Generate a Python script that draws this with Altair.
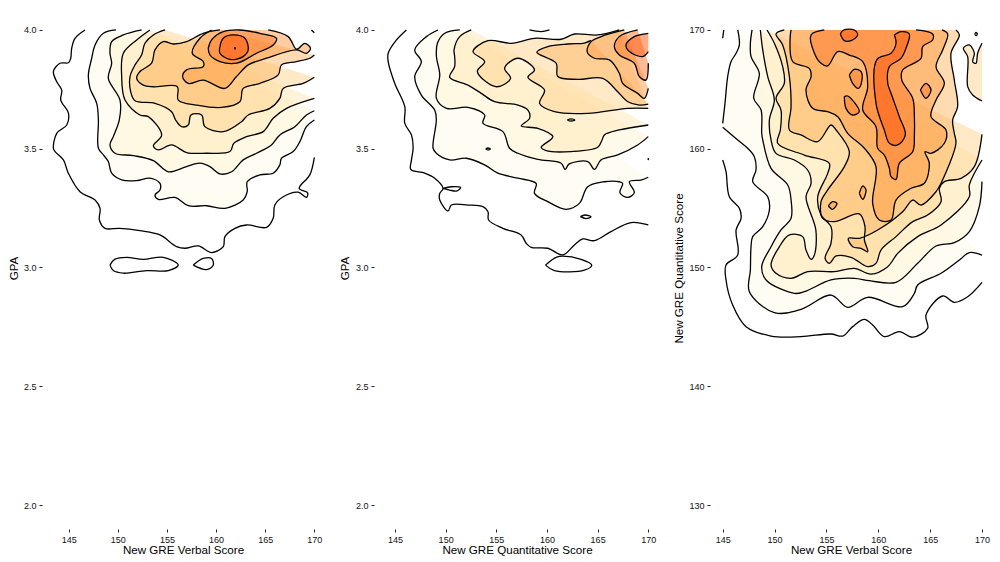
import altair as alt
import pandas as pd

# ---------- Panel 1: GPA vs verbal ----------
p1_c1a = [(146.66,4.0),(145.64,3.965),(145.3,3.923),(145.2,3.88),(144.97,3.862),(144.12,3.86),(143.44,3.825),(143.78,3.782),(144.29,3.747),(144.19,3.705),(144.97,3.65),(144.8,3.6),(143.78,3.565),(143.44,3.502),(143.61,3.488),(144.46,3.453),(144.97,3.396),(146.15,3.319),(147.68,3.284),(148.19,3.249),(148.12,3.2),(148.69,3.165),(150.2,3.165),(152.25,3.155),(154.29,3.137),(155.98,3.088),(156.83,3.081),(158.19,3.091),(159.54,3.063),(160.73,3.088),(160.9,3.13),(161.92,3.165),(163.1,3.179),(165.14,3.169),(165.81,3.207),(165.98,3.263),(166.83,3.298),(168.36,3.317),(169.2,3.295),(169.31,3.315),(168.46,3.333),(169.54,3.39),(170,3.464)]
p1_i1 = [(149.2,3.01),(149.71,3.035),(150.9,3.043),(152.59,3.034),(154.63,3.043),(156.15,3.01),(155.14,2.987),(152.93,2.987),(150.56,2.976),(149.54,2.987),(149.2,3.01)]
p1_i2 = [(157.68,3.01),(158.69,3.038),(159.54,3.038),(159.71,3.01),(159.03,2.991),(157.68,3.01)]
p1_t1 = [(169.7,4.0),(170,3.988)]
p1_c2 = [(149.81,4.0),(148.53,3.986),(147.68,3.937),(147.34,3.881),(147.0,3.811),(147.17,3.754),(147.85,3.691),(148.02,3.621),(148.02,3.502),(148.53,3.474),(149.03,3.446),(149.37,3.397),(150.39,3.369),(151.92,3.366),(153.27,3.376),(154.29,3.354),(154.29,3.326),(153.78,3.305),(154.12,3.287),(155.81,3.295),(157.17,3.26),(159.03,3.26),(160.9,3.249),(162.76,3.284),(163.17,3.319),(163.17,3.361),(164.46,3.39),(165.81,3.397),(166.49,3.432),(166.66,3.46),(167.85,3.488),(168.53,3.53),(169.2,3.593),(170,3.621)]
p1_c3 = [(152.42,4.0),(150.56,3.979),(149.37,3.951),(149.2,3.902),(149.37,3.86),(149.03,3.796),(150.22,3.705),(150.15,3.621),(149.54,3.551),(149.2,3.516),(149.71,3.481),(151.58,3.471),(153.61,3.45),(155.14,3.403),(157.0,3.425),(158.36,3.439),(159.37,3.425),(160.39,3.394),(161.58,3.403),(162.76,3.453),(164.12,3.481),(165.64,3.516),(166.49,3.558),(168.02,3.593),(169.2,3.642),(170,3.66)]
p1_c4 = [(153.27,4.0),(151.92,3.958),(150.56,3.902),(150.39,3.804),(150.73,3.705),(152.25,3.642),(153.1,3.635),(154.46,3.558),(153.61,3.512),(154.12,3.495),(155.47,3.516),(157.0,3.484),(159.03,3.481),(161.41,3.488),(161.81,3.523),(163.1,3.551),(164.8,3.572),(165.81,3.628),(167.17,3.67),(170,3.712)]
p1_c5 = [(154.8,4.0),(153.61,3.979),(152.76,3.944),(152.42,3.895),(151.75,3.853),(151.24,3.804),(151.31,3.74),(151.75,3.702),(153.78,3.691),(155.47,3.656),(155.88,3.621),(156.49,3.593),(157.17,3.6),(157.44,3.642),(158.53,3.642),(158.86,3.593),(160.73,3.572),(162.59,3.614),(163.27,3.642),(165.47,3.67),(166.49,3.712),(166.83,3.754),(168.86,3.775),(170,3.801)]
p1_c6 = [(160.39,4.0),(158.69,3.986),(157.0,3.951),(155.64,3.941),(154.63,3.951),(153.78,3.916),(153.44,3.86),(152.25,3.825),(151.92,3.796),(152.59,3.768),(153.61,3.761),(156.05,3.761),(156.15,3.705),(158.02,3.684),(160.56,3.674),(162.42,3.698),(162.76,3.754),(164.46,3.775),(166.32,3.811),(166.66,3.853),(168.19,3.867),(169.54,3.881),(170,3.895)]
p1_c7 = [(159.54,4.0),(158.36,3.965),(157.58,3.902),(158.69,3.867),(158.69,3.846),(157.0,3.832),(156.59,3.804),(157.17,3.775),(158.69,3.789),(160.9,3.754),(162.08,3.804),(163.27,3.853),(165.14,3.881),(168.19,3.916),(169.2,3.902),(169.61,3.923),(169.03,3.944),(168.19,3.919),(167.34,3.972),(165.31,4.0)]
p1_c8 = [(159.2,3.923),(159.54,3.958),(160.73,3.993),(162.42,4.0),(164.46,3.986),(166.15,3.965),(165.81,3.937),(164.12,3.902),(162.08,3.86),(160.39,3.867),(159.37,3.895),(159.2,3.923)]
p1_c9 = [(160.39,3.93),(160.73,3.965),(161.75,3.979),(162.93,3.965),(163.27,3.916),(162.76,3.888),(161.41,3.876),(160.39,3.902),(160.39,3.93)]
p1_c10 = [(161.87,3.923),(161.92,3.926),(161.97,3.923),(161.92,3.92),(161.87,3.923)]

# ---------- Panel 2: GPA vs quantitative ----------
p2_c1 = [(146.13,4.0),(145.15,3.958),(144.33,3.902),(144.33,3.867),(144.98,3.775),(145.97,3.677),(145.97,3.607),(146.63,3.558),(146.79,3.502),(146.63,3.453),(146.56,3.413),(147.94,3.397),(148.92,3.376),(149.74,3.333),(149.42,3.312),(149.42,3.284),(150.24,3.238),(150.57,3.263),(152.21,3.263),(153.68,3.256),(154.18,3.235),(154.24,3.2),(155.65,3.165),(157.45,3.137),(157.95,3.102),(158.44,3.085),(160.08,3.081),(161.56,3.053),(162.71,3.095),(163.53,3.12),(164.68,3.113),(166.32,3.151),(168.29,3.189),(170,3.179)]
p2_i1 = [(149.74,3.333),(150.57,3.34),(151.48,3.336),(151.07,3.322),(150.4,3.326),(149.74,3.333)]
p2_i2 = [(163.3,3.214),(163.76,3.221),(164.35,3.214),(163.86,3.206),(163.3,3.214)]
p2_i3 = [(159.85,3.01),(160.9,3.043),(161.56,3.048),(163.37,3.034),(164.42,3.01),(163.7,2.989),(160.74,2.987),(159.85,3.01)]
p2_i4 = [(153.95,3.499),(154.18,3.503),(154.41,3.499),(154.18,3.495),(153.95,3.499)]
p2_i5 = [(162.0,3.621),(162.38,3.626),(162.76,3.621),(162.38,3.616),(162.0,3.621)]
p2_i6 = [(169.95,3.456),(170,3.458),(170,3.454),(169.95,3.456)]
p2_c2 = [(149.25,4.0),(148.1,3.972),(146.95,3.916),(147.6,3.867),(146.95,3.804),(147.6,3.726),(148.92,3.663),(149.08,3.621),(148.76,3.502),(149.08,3.481),(150.4,3.453),(152.04,3.46),(153.84,3.432),(155.15,3.397),(157.12,3.376),(158.93,3.354),(158.77,3.312),(160.08,3.277),(161.88,3.245),(163.2,3.27),(164.02,3.34),(165.66,3.361),(167.14,3.361),(167.47,3.354),(167.2,3.315),(167.96,3.295),(168.62,3.315),(168.13,3.361),(169.28,3.368),(170,3.38)]
p2_c3 = [(151.39,4.0),(149.91,3.986),(149.19,3.944),(149.09,3.888),(149.42,3.811),(149.09,3.712),(150.08,3.67),(152.2,3.674),(153.85,3.642),(153.68,3.607),(155.65,3.572),(156.31,3.502),(157.13,3.481),(159.1,3.455),(161.4,3.439),(161.79,3.413),(162.2,3.436),(164.03,3.446),(164.68,3.413),(165.34,3.453),(166.98,3.474),(168.95,3.516),(170,3.551)]
p2_c4 = [(152.53,4.0),(151.39,3.972),(150.83,3.916),(150.89,3.888),(150.89,3.846),(150.4,3.801),(152.2,3.768),(153.52,3.733),(154.83,3.698),(157.13,3.684),(158.12,3.663),(158.28,3.628),(157.46,3.596),(159.1,3.586),(160.58,3.551),(159.43,3.506),(159.92,3.492),(162.38,3.488),(165.01,3.506),(165.44,3.537),(165.67,3.558),(167.14,3.579),(170,3.6)]
p2_c5 = [(170,3.67),(167.96,3.67),(164.03,3.649),(160.74,3.656),(159.27,3.691),(159.76,3.747),(158.12,3.801),(158.77,3.832),(157.13,3.881),(155.82,3.839),(156.41,3.796),(155.0,3.761),(153.13,3.825),(153.85,3.867),(152.7,3.909),(154.18,3.955),(156.48,3.944),(158.77,3.965),(161.4,3.961),(162.71,3.983),(165.01,3.979),(167.14,4.0)]
p2_t1 = [(158.28,4.0),(159.43,3.993),(160.25,4.0)]
p2_c6 = [(170,3.688),(169.11,3.684),(167.98,3.698),(166.98,3.74),(165.5,3.796),(163.04,3.792),(161.07,3.804),(160.9,3.86),(159.0,3.906),(160.08,3.93),(162.05,3.941),(163.69,3.945),(164.35,3.956)]
p2_c7 = [(167.63,4.0),(165.34,3.972),(164.35,3.951),(163.96,3.909),(164.68,3.881),(166.16,3.874),(167.14,3.818),(167.47,3.775),(168.95,3.733),(169.61,3.712),(170,3.754)]
p2_c8 = [(168.95,4.0),(167.14,3.972),(166.65,3.93),(167.14,3.895),(168.62,3.86),(169.11,3.804),(169.77,3.789),(170,3.86)]
p2_c9 = [(170,3.986),(168.62,3.972),(167.8,3.937),(168.13,3.909),(169.44,3.888),(170,3.909)]

# ---------- Panel 3: quantitative vs verbal ----------
p3_c1a = [(145.1,170),(145.0,169.3)]
p3_c1b = [(145.0,159.05),(145.32,158.07),(145.64,155.96),(146.61,154.98),(146.77,154.14),(146.29,153.16),(146.45,151.05),(145.32,150.21),(145.32,148.95),(145.96,146.84),(147.25,145.02),(149.66,144.23),(152.55,144.18),(155.44,144.4),(156.57,144.23),(157.53,145.02),(158.66,145.63),(159.46,145.16),(160.58,144.18),(162.03,144.6),(163.32,144.13),(164.76,144.88),(164.6,146.0),(166.21,147.6),(167.33,147.07),(168.62,147.54),(170,148.75)]
p3_c2a = [(146.45,170),(146.61,168.74),(146.29,168.04),(145.8,167.33),(145.48,166.07),(145.22,163.82),(145.0,162.14)]
p3_c2b = [(145.0,161.8),(146.45,160.74),(147.41,160.04),(148.05,159.33),(148.21,158.21),(147.89,157.23),(149.34,155.96),(149.5,154.84),(148.86,153.44),(147.89,152.6),(147.73,151.75),(147.67,149.79),(147.57,147.96),(149.98,146.2),(152.55,146.48),(155.44,147.68),(157.05,146.65),(158.98,147.49),(162.35,146.7),(163.48,147.82),(163.8,148.53),(166.05,149.51),(167.82,150.63),(168.78,151.25),(170,151.05)]
p3_c3 = [(147.83,170),(147.67,168.88),(147.73,167.75),(148.53,166.35),(147.99,164.25),(148.7,163.26),(148.76,161.3),(148.86,160.74),(149.66,158.35),(151.27,156.95),(151.59,155.68),(151.59,154.14),(150.62,153.16),(149.66,151.75),(148.76,150.07),(149.18,148.95),(151.91,147.82),(152.87,147.96),(155.44,148.95),(157.69,149.09),(159.14,148.89),(161.71,148.75),(163.8,150.35),(165.57,151.81),(167.33,152.09),(168.78,153.02),(169.74,155.12),(170,157.23)]
p3_c4 = [(148.63,170),(148.86,168.32),(149.34,166.07),(149.98,164.11),(149.5,162.42),(149.66,160.74),(150.14,159.61),(151.91,159.05),(153.19,158.21),(153.52,157.09),(153.03,155.96),(153.98,153.16),(153.84,151.05),(153.52,150.69),(153.03,151.47),(152.71,152.6),(151.43,152.74),(150.46,151.75),(149.66,150.21),(150.14,149.51),(151.59,149.09),(153.19,149.65),(155.76,149.65),(157.69,149.93),(159.3,149.45),(160.91,150.07),(161.87,151.19),(163.8,152.6),(166.05,153.58),(168.78,155.96),(168.78,156.95),(170,159.05)]
p3_c5 = [(149.27,170),(149.98,168.88),(150.78,166.91),(150.94,165.51),(150.14,164.25),(150.62,163.26),(150.56,161.58),(150.3,160.46),(152.87,159.47),(155.28,158.77),(155.12,157.93),(154.16,155.96),(154.48,154.42),(155.44,153.44),(155.44,152.04),(154.87,150.77),(155.28,150.35),(155.93,150.97),(157.37,150.86),(158.98,150.07),(159.78,150.35),(160.26,151.47),(161.71,152.6),(163.32,153.86),(164.76,154.42),(166.05,155.54),(165.89,156.67),(166.37,157.23),(167.98,157.51),(169.26,158.49),(170,161.21)]
p3_b1 = [(170,168.88),(169.58,168.04),(169.42,167.19),(169.1,167.33),(169.26,168.04),(168.78,168.74),(168.2,168.46),(168.62,167.75),(168.62,165.23),(169.1,164.53),(170,164.02)]
p3_c6 = [(150.94,170),(150.14,169.66),(150.78,168.74),(151.43,166.07),(151.59,163.54),(151.43,161.58),(152.55,161.16),(154.16,160.6),(155.44,162.0),(155.93,161.58),(157.21,159.75),(156.73,158.49),(155.12,156.53),(154.48,155.54),(154.64,154.14),(155.76,153.86),(158.17,154.51),(158.72,153.44),(158.66,152.32),(158.98,151.33),(158.34,151.61),(157.53,151.75),(157.11,152.46),(158.17,152.46),(159.94,153.16),(162.35,154.7),(163.32,155.68),(164.12,155.26),(165.57,156.39),(166.05,157.09),(167.49,160.46),(167.33,161.3),(167.17,162.42),(167.65,163.54),(167.33,165.79),(167.01,168.04),(167.82,169.58),(167.49,170)]
p3_c7 = [(151.59,170),(151.49,169.16),(151.75,167.33),(153.35,166.77),(153.52,166.07),(153.03,164.95),(153.68,163.4),(155.12,163.12),(156.09,162.7),(157.05,161.3),(158.66,160.04),(159.78,158.49),(159.46,155.4),(160.1,154.0),(161.23,154.0),(161.71,155.68),(163.16,156.67),(164.44,157.09),(164.92,158.77),(164.5,159.75),(165.08,159.61),(166.37,160.46),(166.53,161.58),(165.08,162.7),(165.57,164.11),(166.37,165.51),(165.57,166.91),(166.21,168.32),(166.69,169.66),(166.14,170)]
p3_c8 = [(154.8,170),(153.52,169.58),(153.84,168.04),(154.48,167.19),(155.12,166.97),(156.09,168.18),(157.21,167.89),(158.5,167.33),(158.98,165.23),(158.5,163.26),(159.78,161.86),(159.94,160.04),(160.58,159.47),(161.07,158.35),(161.23,157.65),(161.71,157.42),(162.03,158.77),(163.32,159.75),(163.48,161.16),(163.48,162.7),(163.32,164.25),(162.26,165.79),(162.35,166.63),(164.12,167.61),(164.28,168.6),(165.24,169.16),(165.24,169.66),(163.64,170)]
p3_o1 = [(157.21,166.21),(157.69,166.69),(158.34,166.49),(158.4,165.65),(158.08,165.09),(157.53,165.51),(157.21,166.21)]
p3_o2 = [(156.73,164.39),(157.05,164.44),(158.17,163.12),(157.53,162.84),(156.89,163.4),(156.73,164.39)]
p3_o3 = [(155.19,155.18),(155.6,155.54),(156.02,155.4),(155.6,154.9),(155.19,155.18)]
p3_o4 = [(158.17,156.25),(158.5,156.86),(158.82,156.53),(158.5,155.74),(158.17,156.25)]
p3_o5 = [(164.06,164.95),(164.6,165.51),(165.08,164.95),(164.6,164.25),(164.06,164.95)]
p3_t1 = [(156.34,169.66),(156.66,170),(157.69,170),(158.01,169.58),(157.37,169.1),(156.73,169.1),(156.34,169.66)]
p3_c9 = [(161.55,169.58),(161.71,168.88),(161.23,168.04),(159.88,167.53),(159.78,163.82),(160.58,161.58),(161.07,160.46),(161.87,160.32),(162.61,161.16),(162.03,162.7),(161.23,164.67),(160.91,165.51),(161.07,166.91),(162.19,167.61),(162.67,168.46),(162.99,169.66),(162.19,169.86),(161.55,169.58)]
p3_d1 = [(169.3,169.66),(169.42,169.8),(169.55,169.66),(169.42,169.52),(169.3,169.66)]

x_ticks = [145, 150, 155, 160, 165, 170]
gpa_ticks = [2.0, 2.5, 3.0, 3.5, 4.0]
quant_ticks = [130, 140, 150, 160, 170]

palette = ["#ffffff", "#fffbe8", "#fff4d4", "#ffe9b8", "#ffd490",
           "#ffb864", "#ff9c44", "#ff7828", "#ff5810", "#ff4808"]
FONT = "Liberation Sans"
ALPHA = 0.5


def frame(pts):
    return pd.DataFrame([{"x": p[0], "y": p[1], "i": i} for i, p in enumerate(pts)])


def panel(filled, lines, xdom, ydom, w, xtitle, ytitle, yticks, yfmt, title_x):
    X = alt.X("x:Q", scale=alt.Scale(domain=xdom, nice=False, zero=False), title=xtitle,
              axis=alt.Axis(values=x_ticks, grid=False, domain=False, tickSize=3, tickWidth=1,
                            tickColor="#222222", labelFontSize=9, labelColor="#111111",
                            labelFont=FONT, labelPadding=3, titleFont=FONT,
                            titleFontSize=11.6, titleFontWeight="normal", titleColor="#000000",
                            titlePadding=0))
    Y = alt.Y("y:Q", scale=alt.Scale(domain=ydom, nice=False, zero=False), title=ytitle,
              axis=alt.Axis(values=yticks, format=yfmt, grid=False, domain=False, tickSize=3, tickWidth=1,
                            tickColor="#222222", labelFontSize=9, labelColor="#111111",
                            labelFont=FONT, labelPadding=3, titleFont=FONT,
                            titleFontSize=11.6, titleFontWeight="normal", titleColor="#000000",
                            titleX=title_x, titleY=248))
    layers = []
    for pts, lev in filled:
        layers.append(alt.Chart(frame(pts)).mark_line(
            fill=palette[lev], fillOpacity=ALPHA, strokeOpacity=0, interpolate="catmull-rom"
        ).encode(x=X, y=Y, order="i:Q"))
    for pts in lines:
        layers.append(alt.Chart(frame(pts)).mark_line(
            color="#000000", strokeWidth=1.3, interpolate="catmull-rom"
        ).encode(x=X, y=Y, order="i:Q"))
    return alt.layer(*layers).properties(width=w, height=509)


p1_fill = [(p1_c1a, 0), (p1_i1, 0), (p1_i2, 0), (p1_c2, 1), (p1_c3, 2), (p1_c4, 3), (p1_c5, 4),
           (p1_c6, 5), (p1_c7, 6), (p1_c8, 7), (p1_c9, 8), (p1_c10, 9)]
p1_lines = [p[0] for p in p1_fill] + [p1_t1]
p2_fill = [(p2_c1, 0), (p2_i1, 0), (p2_i2, 0), (p2_i3, 0), (p2_c2, 1), (p2_i4, 1), (p2_i6, 1),
           (p2_c3, 2), (p2_c4, 3), (p2_i5, 3), (p2_c5, 4), (p2_c6, 5), (p2_c7, 6), (p2_c8, 7), (p2_c9, 8)]
p2_lines = [p[0] for p in p2_fill] + [p2_t1]
p3_fill = [(p3_c1b, 0), (p3_c2a + p3_c2b, 1), (p3_c3, 2), (p3_c4, 3), (p3_c5, 4), (p3_b1, 4), (p3_c6, 5),
           (p3_o3, 6), (p3_o4, 6), (p3_c7, 6), (p3_o1, 7), (p3_o2, 7), (p3_c8, 7), (p3_o5, 7), (p3_t1, 8), (p3_c9, 8)]
p3_lines = [p3_c1a, p3_c1b, p3_c2a, p3_c2b, p3_c3, p3_c4, p3_c5, p3_b1, p3_c6, p3_o3, p3_o4, p3_c7,
            p3_o1, p3_o2, p3_c8, p3_o5, p3_t1, p3_c9, p3_d1]

a = panel(p1_fill, p1_lines, [142.28, 170.985], [1.899, 4.042], 282,
          "New GRE Verbal Score", "GPA", gpa_ticks, ".1f", -23)
b = panel(p2_fill, p2_lines, [142.93, 171.155], [1.899, 4.042], 286,
          "New GRE Quantitative Score", "GPA", gpa_ticks, ".1f", -24)
c = panel(p3_fill, p3_lines, [143.775, 170.964], [127.98, 170.84], 282,
          "New GRE Verbal Score", "New GRE Quantitative Score", quant_ticks, "d", -26)

chart = alt.hconcat(a, b, c, spacing=50, bounds="flush").properties(
    padding={"left": 0, "top": 12, "right": 0, "bottom": 0}
).configure_view(stroke=None)

chart.save("out.html", embed_options={"renderer": "svg", "actions": False})
